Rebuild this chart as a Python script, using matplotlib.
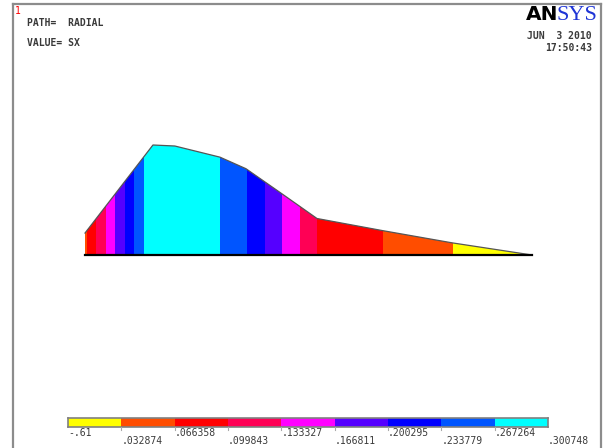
import numpy as np
import matplotlib.pyplot as plt
from matplotlib.colors import ListedColormap, BoundaryNorm
from matplotlib.patches import Polygon
from matplotlib.lines import Line2D

# path distance along RADIAL and SX stress read along it
dist = [0.0, 1.52, 2.01, 3.02, 3.60, 4.41, 5.19, 6.67, 8.23, 10.0]
sx = [0.060, 0.300748, 0.298, 0.2675, 0.236, 0.167, 0.0998, 0.0664, 0.0329, 0.0]

# contour levels and their legend labels
levels = [-0.00061, 0.032874, 0.066358, 0.099843, 0.133327,
          0.166811, 0.200295, 0.233779, 0.267264, 0.300748]
level_labels = ['-.61', '.032874', '.066358', '.099843', '.133327',
                '.166811', '.200295', '.233779', '.267264', '.300748']
band_colors = ['#ffff00', '#ff4d00', '#ff0000', '#ff0055', '#ff00ff',
               '#5500ff', '#0000ff', '#0055ff', '#00ffff']

W, H = 604, 448
cmap = ListedColormap(band_colors)
norm = BoundaryNorm(levels, cmap.N)


def fig_box(x0, y0, x1, y1):
    # pixel box (top-left origin) -> figure fraction rect
    return [x0 / W, 1 - y1 / H, (x1 - x0) / W, (y1 - y0) / H]


fig = plt.figure(figsize=(W / 100, H / 100), dpi=100)
fig.patch.set_facecolor('white')

# --- path plot ---
ax = fig.add_axes(fig_box(85, 145, 532, 255))
ax.set_xlim(0, dist[-1])
ax.set_ylim(0, max(sx))
ax.axis('off')

# vertical colour strips: each column takes the band of its SX value
xx = np.linspace(0, dist[-1], 2000)
vals = np.interp(xx, dist, sx)
img = ax.imshow(vals[None, :], cmap=cmap, norm=norm, aspect='auto',
                extent=(0, dist[-1], 0, max(sx)), interpolation='nearest')
poly = Polygon(list(zip(dist, sx)) + [(dist[-1], 0), (0, 0)], closed=True,
               facecolor='none', edgecolor='none', transform=ax.transData)
ax.add_patch(poly)
img.set_clip_path(poly)

ax.plot(dist, sx, color='#555555', lw=0.9, clip_on=False)
ax.plot([0, dist[-1]], [0, 0], color='black', lw=1.6, clip_on=False)

# --- contour legend bar ---
cax = fig.add_axes(fig_box(68, 418, 548, 427))
cax.imshow(np.arange(len(band_colors))[None, :], cmap=cmap, aspect='auto',
           extent=(0, len(band_colors), 0, 1), interpolation='nearest')
cax.set_xticks([])
cax.set_yticks([])
for s in cax.spines.values():
    s.set_color('#808080')
    s.set_linewidth(1.2)

step = (548 - 68) / len(band_colors)
mono = dict(family='DejaVu Sans Mono', fontsize=7, color='#3a3a3a')
for i, lab in enumerate(level_labels):
    px = 68 + i * step
    py = 433 if i % 2 == 0 else 441
    fig.text(px / W, 1 - py / H, lab, ha='left', va='center', **mono)
    if 0 < i < len(level_labels) - 1:
        fig.add_artist(Line2D([px / W, px / W], [1 - 427 / H, 1 - 430 / H],
                              color='#aaaaaa', lw=0.8))

# --- window frame ---
frame = dict(color='#8c8c8c', lw=1.6)
fig.add_artist(Line2D([13 / W, 13 / W], [0, 1 - 4 / H], **frame))
fig.add_artist(Line2D([13 / W, 601 / W], [1 - 4 / H, 1 - 4 / H], **frame))
fig.add_artist(Line2D([601 / W, 601 / W], [0, 1 - 4 / H], **frame))

# --- annotations ---
fig.text(15 / W, 1 - 11 / H, '1', color='red', fontsize=7,
         family='DejaVu Sans Mono', ha='left', va='center')
fig.text(27 / W, 1 - 23 / H, 'PATH=  RADIAL', ha='left', va='center',
         fontweight='bold', **mono)
fig.text(27 / W, 1 - 43 / H, 'VALUE= SX', ha='left', va='center',
         fontweight='bold', **mono)
fig.text(592 / W, 1 - 36 / H, 'JUN  3 2010', ha='right', va='center',
         fontweight='bold', **mono)
fig.text(592 / W, 1 - 48 / H, '17:50:43', ha='right', va='center',
         fontweight='bold', **mono)

fig.text(558 / W, 1 - 15 / H, 'AN', ha='right', va='center', fontsize=14.5,
         fontweight='bold', family='DejaVu Sans', color='black')
fig.text(557 / W, 1 - 15 / H, 'SYS', ha='left', va='center', fontsize=16,
         family='Liberation Serif', color='#1f35d6')

fig.savefig('out.png', dpi=100)
